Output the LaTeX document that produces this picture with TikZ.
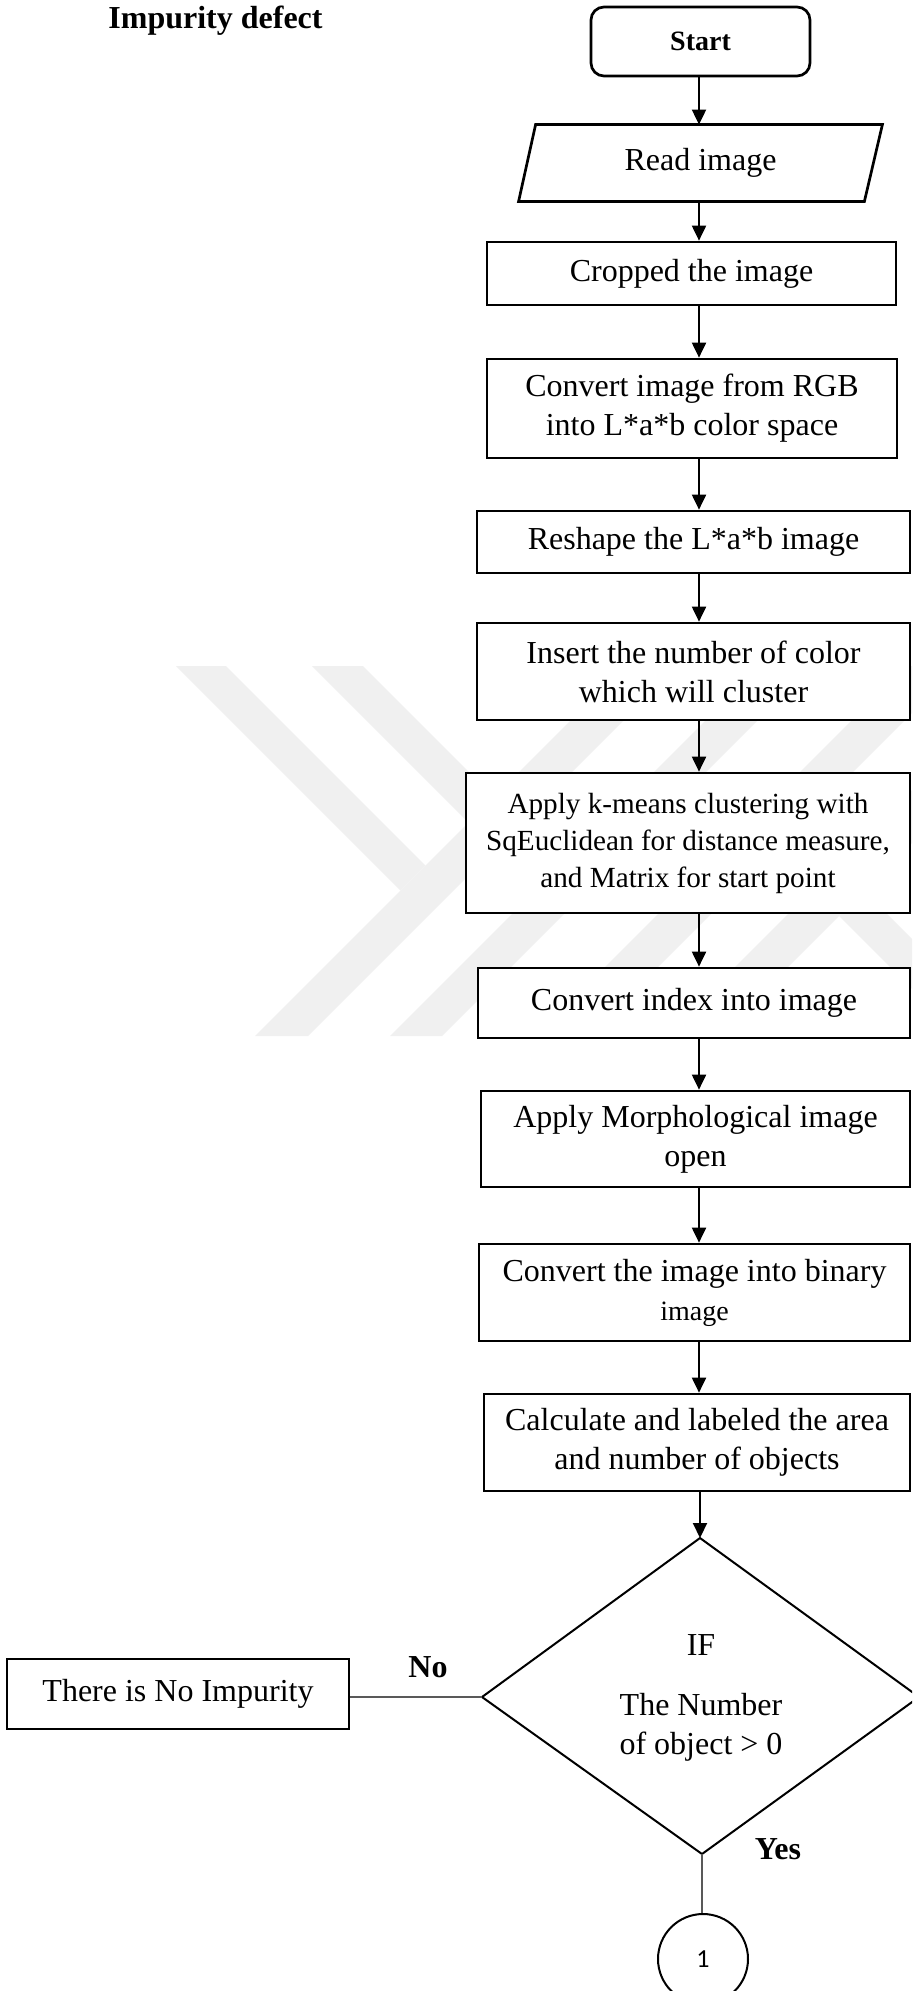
\documentclass[tikz,border=0pt]{standalone}
\usepackage{fontspec}
\setmainfont{Liberation Serif}
\newfontfamily\digitfont{Carlito}
\usetikzlibrary{arrows.meta}

\tikzset{
  base/.style={font=\fontsize{16}{19.5}\selectfont, align=center, inner sep=0pt},
  procbox/.style={base, draw, line width=1.35pt, fill=white},
  startbox/.style={procbox, rounded corners=6.5pt, font=\fontsize{14}{17}\selectfont\bfseries},
  flow/.style={line width=1pt, -{Triangle[width=7pt,length=7.5pt]}},
  thinlink/.style={line width=0.65pt, draw=black!65},
  shade/.style={fill=black!6, draw=none},
  tag/.style={base, font=\fontsize{16}{19.5}\selectfont\bfseries},
}

\begin{document}
\begin{tikzpicture}[x=0.5pt, y=-0.5pt]
\useasboundingbox (0,0) rectangle (912,1991);
\clip (0,0) rectangle (912,1991);
\fill[white] (0,0) rectangle (912,1991);

% faint background emblem
\fill[shade] (176,666) -- (226,666) -- (425.5,865.5) -- (400.5,890.5) -- cycle;
\fill[shade] (255,1036) -- (308,1036) -- (678,666) -- (625,666) -- cycle;
\fill[shade] (312,666) -- (363,666) -- (561.5,864.5) -- (536,890) -- cycle;
\fill[shade] (390,1036) -- (442,1036) -- (812,666) -- (760,666) -- cycle;
\fill[shade] (536,1036) -- (589,1036) -- (959,666) -- (906,666) -- cycle;
\fill[shade] (666,1036) -- (719,1036) -- (1089,666) -- (1036,666) -- cycle;
\fill[shade] (839,916) -- (864,891) -- (1009,1036) -- (959,1036) -- cycle;

% heading
\node[tag] (title) at (215.5,21) {Impurity defect};

% process column
\node[startbox, minimum width=109.5pt, minimum height=34.5pt] (start) at (700.5,41.5) {Start};
\node[base, minimum width=181.5pt, minimum height=38pt] (read) at (700.5,163) {Read image};
\draw[line width=1.35pt] ([xshift=8.5pt]read.north west) -- (read.north east)
  -- ([xshift=-9pt]read.south east) -- (read.south west) -- cycle;
\node[procbox, minimum width=204.5pt, minimum height=31.5pt] (crop) at (691.5,273.5) {Cropped the image};
\node[procbox, minimum width=205pt, minimum height=49.5pt] (rgb) at (692,408.5) {Convert image from RGB\\into L*a*b color space};
\node[procbox, minimum width=216.5pt, minimum height=31pt] (reshape) at (693.5,542) {Reshape the L*a*b image};
\node[procbox, minimum width=216.5pt, minimum height=48.5pt] (insert) at (693.5,671.5) {Insert the number of color\\which will cluster};
\node[procbox, minimum width=222pt, minimum height=70pt, font=\fontsize{14.6}{18.5}\selectfont] (kmeans) at (688,843) {Apply k-means clustering with\\SqEuclidean for distance measure,\\and Matrix for start point};
\node[procbox, minimum width=216pt, minimum height=35pt] (index) at (694,1003) {Convert index into image};
\node[procbox, minimum width=214.5pt, minimum height=48pt] (morph) at (695.5,1139) {Apply Morphological image\\open};
\node[procbox, minimum width=215.5pt, minimum height=48.5pt] (binary) at (694.5,1292.5) {Convert the image into binary\\{\fontsize{14}{17}\selectfont image}};
\node[procbox, minimum width=213pt, minimum height=48.5pt] (calc) at (697,1442.5) {Calculate and labeled the area\\and number of objects};

% decision
\coordinate (dtop) at (700,1538);
\coordinate (dright) at (919,1697);
\coordinate (dbot) at (702,1854);
\coordinate (dleft) at (482,1697);
\draw[line width=1pt] (dtop) -- (dright) -- (dbot) -- (dleft) -- cycle;
\node[base] (test) at (701,1698) {IF\\[10.5pt]The Number\\of object > 0};

\node[procbox, minimum width=171pt, minimum height=35pt] (noimp) at (178,1694) {There is No Impurity};
\node[tag] (nolab) at (428,1667) {No};
\node[tag] (yeslab) at (778,1849) {Yes};
\node[circle, draw, line width=1pt, minimum size=45pt, inner sep=0pt,
      font=\digitfont\fontsize{13}{15}\selectfont] (conn) at (703,1959) {1};

% connectors
\coordinate (col) at (699,0);
\draw[flow] (start.south -| col) -- (read.north -| col);
\draw[flow] (read.south -| col) -- (crop.north -| col);
\draw[flow] (crop.south -| col) -- (rgb.north -| col);
\draw[flow] (rgb.south -| col) -- (reshape.north -| col);
\draw[flow] (reshape.south -| col) -- (insert.north -| col);
\draw[flow] (insert.south -| col) -- (kmeans.north -| col);
\draw[flow] (kmeans.south -| col) -- (index.north -| col);
\draw[flow] (index.south -| col) -- (morph.north -| col);
\draw[flow] (morph.south -| col) -- (binary.north -| col);
\draw[flow] (binary.south -| col) -- (calc.north -| col);
\draw[flow] (calc.south -| dtop) -- (dtop);
\draw[thinlink] (noimp.east |- dleft) -- (dleft);
\draw[thinlink] (dbot) -- (dbot |- conn.north);
\end{tikzpicture}
\end{document}
